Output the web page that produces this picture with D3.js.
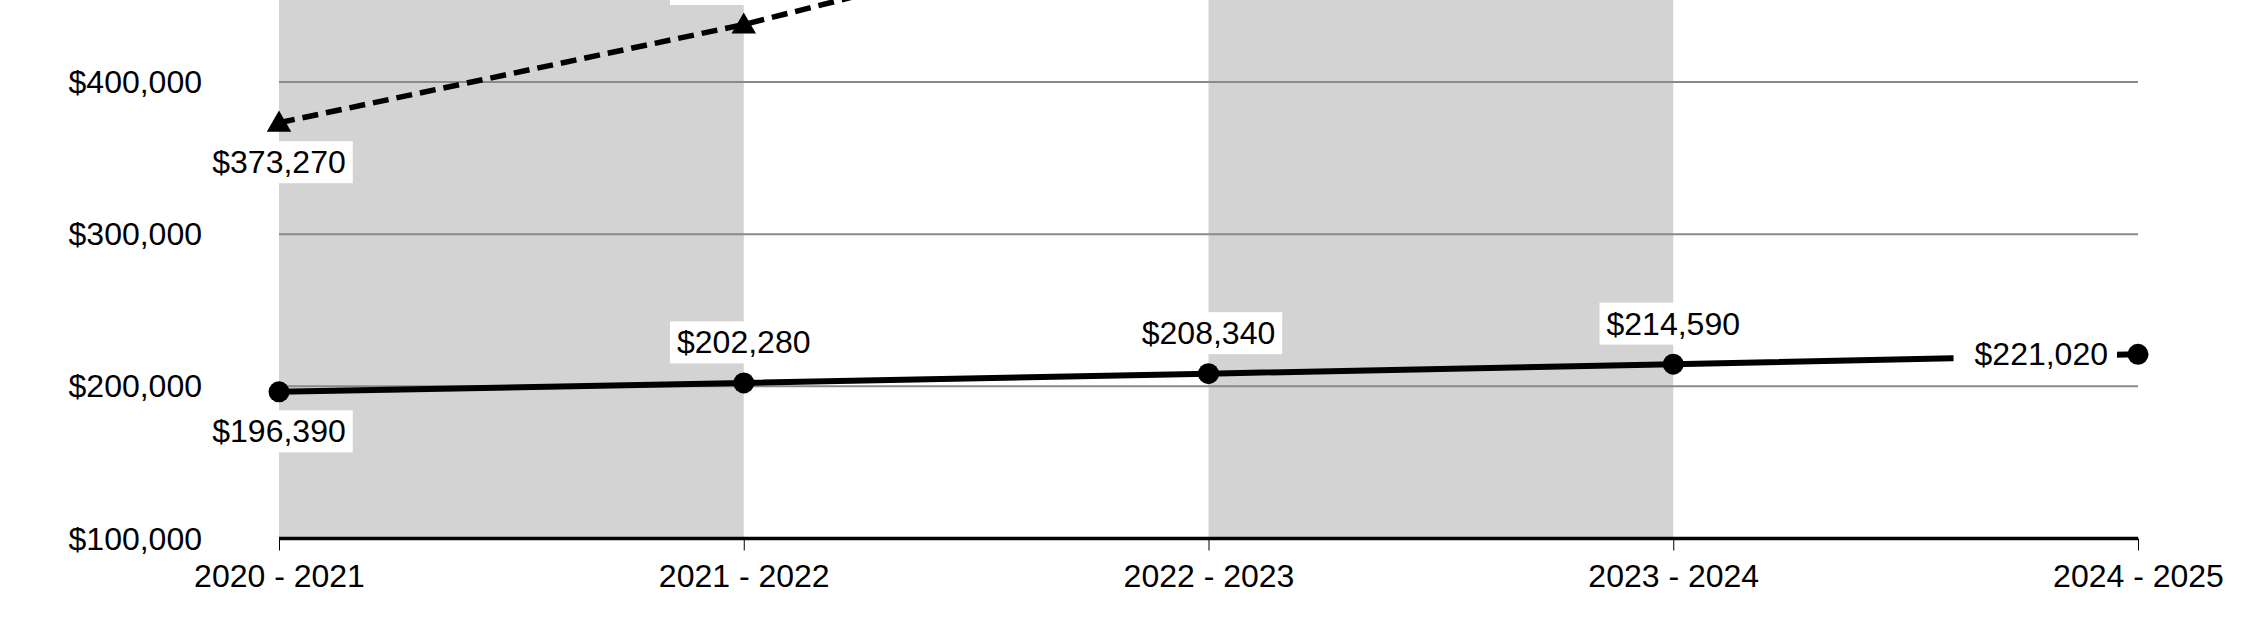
<!DOCTYPE html>
<html>
<head>
<meta charset="utf-8">
<script src="https://cdn.jsdelivr.net/npm/d3@7"></script>
<style>
  html, body { margin: 0; padding: 0; background: #ffffff; }
  svg { display: block; }
  text { font-family: "Liberation Sans", Arial, sans-serif; fill: #000; }
</style>
</head>
<body>
<svg id="chart" width="2250" height="622"></svg>
<script>
// ---- data ----
const categories = ["2020 - 2021", "2021 - 2022", "2022 - 2023", "2023 - 2024", "2024 - 2025"];
const solidValues = [196390, 202280, 208340, 214590, 221020];
// points beyond the first two lie above the visible picture; estimated
const dashedValues = [373270, 437800, 515000, 605000, 710000];
const yTickValues = [100000, 200000, 300000, 400000, 500000];
const shadedBands = [0, 2]; // band from category i to i+1
const solidLabelPlacement = ["below", "above", "above", "above", "left"];
const dashedLabelPlacement = ["below", "above", "above", "above", "above"];

// ---- layout ----
const W = 2250, H = 622;
const svg = d3.select("#chart");
const fontSize = 32;
const x = d3.scalePoint().domain(categories).range([279, 2138]);
const y = d3.scaleLinear().domain([100000, 500000]).range([538.5, -70.1]);
const fmt = v => "$" + d3.format(",")(v);
const axisY = y(100000);

// shaded bands
svg.append("g").selectAll("rect").data(shadedBands).join("rect")
  .attr("x", i => x(categories[i]))
  .attr("width", i => x(categories[i + 1]) - x(categories[i]))
  .attr("y", y(500000))
  .attr("height", axisY - y(500000))
  .attr("fill", "#d3d3d3");

// gridlines
svg.append("g").selectAll("line").data(yTickValues.filter(v => v > 100000)).join("line")
  .attr("x1", x.range()[0]).attr("x2", x.range()[1])
  .attr("y1", d => y(d)).attr("y2", d => y(d))
  .attr("stroke", "#8a8a8a").attr("stroke-width", 2);

// y tick labels (only those inside the picture)
svg.append("g").selectAll("text").data(yTickValues.filter(v => y(v) > 0)).join("text")
  .attr("x", 202).attr("y", d => y(d))
  .attr("text-anchor", "end").attr("dominant-baseline", "central")
  .attr("font-size", fontSize)
  .text(fmt);

// x axis
const xAxis = d3.axisBottom(x).tickSize(12).tickPadding(14);
const gx = svg.append("g").attr("transform", `translate(0,${axisY})`).call(xAxis);
gx.select(".domain").remove();
gx.selectAll(".tick line").attr("stroke", "#000").attr("stroke-width", 1);
gx.selectAll(".tick text").attr("font-size", fontSize).attr("font-family", "Liberation Sans, Arial, sans-serif").attr("fill", "#000");
svg.append("line")
  .attr("x1", x.range()[0]).attr("x2", x.range()[1])
  .attr("y1", axisY).attr("y2", axisY)
  .attr("stroke", "#000").attr("stroke-width", 3.5);

// lines
const line = d3.line().x((d, i) => x(categories[i])).y(d => y(d));
svg.append("path").datum(dashedValues)
  .attr("d", line).attr("fill", "none")
  .attr("stroke", "#000").attr("stroke-width", 5.5)
  .attr("stroke-dasharray", "16 8");
svg.append("path").datum(solidValues)
  .attr("d", line).attr("fill", "none")
  .attr("stroke", "#000").attr("stroke-width", 6);

// markers
svg.append("g").selectAll("path").data(dashedValues).join("path")
  .attr("transform", (d, i) => `translate(${x(categories[i])},${y(d) + 2})`)
  .attr("d", d3.symbol(d3.symbolTriangle, 260))
  .attr("fill", "#000");

// labels (white boxes; text only where it falls inside the picture)
function drawLabels(values, placement) {
  const g = svg.append("g");
  values.forEach((v, i) => {
    const px = x(categories[i]), py = y(v);
    const lg = g.append("g");
    const rect = lg.append("rect").attr("fill", "#fff");
    const t = lg.append("text").attr("font-size", fontSize).text(fmt(v));
    const w = t.node().getComputedTextLength();
    const h = 42;
    const p = placement[i];
    let bx, by, bw, tx;
    if (p === "left") {
      tx = px - 30 - w;
      bx = tx - 21; bw = w + 30;
      by = py - h / 2;
    } else {
      tx = px - w / 2;
      bx = tx - 7; bw = w + 14;
      by = p === "below" ? py + 18.5 : py - 19.5 - h;
    }
    rect.attr("x", bx).attr("y", by).attr("width", bw).attr("height", h);
    t.attr("x", tx).attr("y", by + 32);
    if (by + 32 < 0) t.remove();
    if (by + h < 0) rect.remove();
  });
}
drawLabels(dashedValues, dashedLabelPlacement);
drawLabels(solidValues, solidLabelPlacement);

// solid circle markers on top
svg.append("g").selectAll("circle").data(solidValues).join("circle")
  .attr("cx", (d, i) => x(categories[i]))
  .attr("cy", d => y(d))
  .attr("r", 10.5)
  .attr("fill", "#000");
</script>
</body>
</html>
